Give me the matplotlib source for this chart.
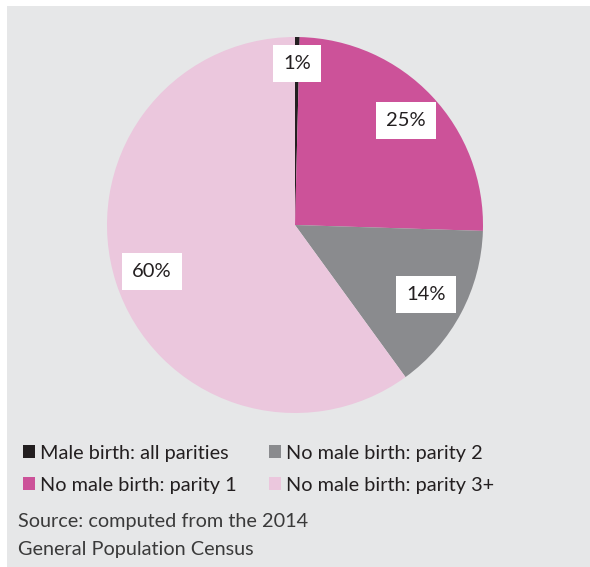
import numpy as np
import matplotlib
matplotlib.use("Agg")
import matplotlib.pyplot as plt
from matplotlib.patches import Patch, Rectangle

plt.rcParams['font.family'] = ['Lato', 'DejaVu Sans']

# data
categories = ["Male birth: all parities", "No male birth: parity 1",
              "No male birth: parity 2", "No male birth: parity 3+"]
shares = [0.4, 25.1, 14.5, 60.0]
pct_labels = ["1%", "25%", "14%", "60%"]
colors = ["#231f20", "#cc5299", "#8a8b8e", "#ebc7dd"]
label_dist = [0.86, 0.81, 0.79, 0.8]

W, H = 590, 567
fig = plt.figure(figsize=(W / 100, H / 100), dpi=100)
fig.patch.set_facecolor("white")
# grey panel behind everything
fig.patches.append(Rectangle((7 / W, 0), 1, 1 - 6 / H, transform=fig.transFigure,
                             facecolor="#e6e7e8", edgecolor="none", zorder=-5))

cx, cy, r = 295, 225, 188
ax = fig.add_axes([(cx - r) / W, (H - cy - r) / H, 2 * r / W, 2 * r / H])
ax.set_zorder(2)
ax.set_facecolor("none")
wedges, _ = ax.pie(shares, colors=colors, startangle=90, counterclock=False,
                   radius=1, wedgeprops=dict(linewidth=0))
ax.set_xlim(-1, 1)
ax.set_ylim(-1, 1)
ax.set_aspect("equal")
ax.axis("off")

for w, lab, d in zip(wedges, pct_labels, label_dist):
    ang = np.deg2rad((w.theta1 + w.theta2) / 2)
    ax.text(d * np.cos(ang), d * np.sin(ang), lab, ha="center", va="center",
            fontsize=14.5, color="#231f20",
            bbox=dict(boxstyle="square,pad=0.5", facecolor="white", edgecolor="none"))

handles = [Patch(facecolor=c, edgecolor="none") for c in colors]
leg = fig.legend(handles, categories, ncol=2, loc="upper left",
                 bbox_to_anchor=(5 / W, 1 - 427 / H), frameon=False,
                 fontsize=14.3, handlelength=0.62, handleheight=0.62,
                 handletextpad=0.25, columnspacing=1.6, labelspacing=0.75,
                 labelcolor="#231f20")
leg.set_zorder(3)

fig.text(18 / W, 1 - 522 / H, "Source: computed from the 2014", fontsize=14.3,
         color="#3a3a3a", va="center")
fig.text(18 / W, 1 - 550 / H, "General Population Census", fontsize=14.3,
         color="#3a3a3a", va="center")

fig.savefig("out.png", dpi=100)
